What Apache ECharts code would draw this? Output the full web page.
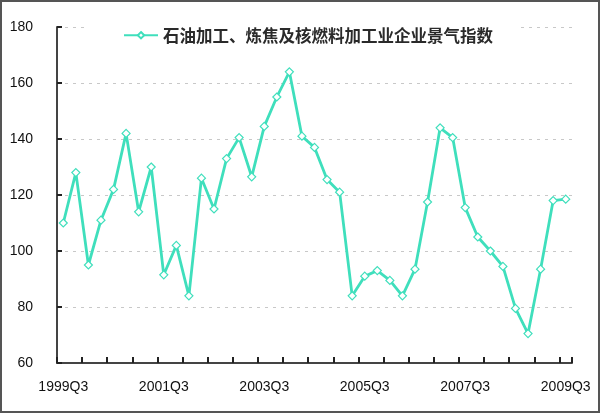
<!DOCTYPE html>
<html>
<head>
<meta charset="utf-8">
<script src="https://cdn.jsdelivr.net/npm/echarts@6/dist/echarts.min.js"></script>
<style>
html,body{margin:0;padding:0;background:#fff;}
#chart{position:absolute;left:0;top:0;width:600px;height:413px;}
#frame{position:absolute;left:0;top:0;width:600px;height:413px;box-sizing:border-box;border:2px solid #555;pointer-events:none;}
</style>
</head>
<body>
<div id="chart"></div>
<div id="frame"></div>
<script>
const seriesName = '石油加工、炼焦及核燃料加工业企业景气指数';
const categories = [
  '1999Q3','1999Q4','2000Q1','2000Q2','2000Q3','2000Q4','2001Q1','2001Q2',
  '2001Q3','2001Q4','2002Q1','2002Q2','2002Q3','2002Q4','2003Q1','2003Q2',
  '2003Q3','2003Q4','2004Q1','2004Q2','2004Q3','2004Q4','2005Q1','2005Q2',
  '2005Q3','2005Q4','2006Q1','2006Q2','2006Q3','2006Q4','2007Q1','2007Q2',
  '2007Q3','2007Q4','2008Q1','2008Q2','2008Q3','2008Q4','2009Q1','2009Q2',
  '2009Q3'
];
const values = [
  110,128,95,111,122,142,114,130,91.5,102,84,126,115,133,140.5,126.5,
  144.5,155,164,141,137,125.5,121,84,91,93,89.5,84,93.5,117.5,144,140.5,
  115.5,105,100,94.5,79.5,70.5,93.5,118,118.5
];
const yTicks = {min: 60, max: 180, step: 20};

const lineColor = '#3fdfbc';
const chart = echarts.init(document.getElementById('chart'), null, {renderer: 'canvas'});
chart.setOption({
  animation: false,
  backgroundColor: '#fff',
  grid: {left: 57, right: 28, top: 27, bottom: 50, containLabel: false},
  legend: {
    left: 88, top: 17,
    padding: [10, 25, 6, 35],
    backgroundColor: '#fff',
    itemWidth: 34, itemHeight: 8,
    itemGap: 10,
    textStyle: {fontSize: 16.5, fontWeight: 'bold', color: '#2a2a2a', fontFamily: '"Noto Sans CJK SC", sans-serif'},
    data: [seriesName]
  },
  xAxis: {
    type: 'category',
    data: categories,
    boundaryGap: true,
    axisLine: {lineStyle: {color: '#444', width: 2}},
    axisTick: {show: true, inside: true, length: 6, interval: 1, lineStyle: {color: '#222', width: 2}},
    axisLabel: {interval: 7, margin: 17, fontSize: 14, color: '#111', fontFamily: '"Liberation Sans", Arial, sans-serif'},
    splitLine: {show: false}
  },
  yAxis: {
    type: 'value',
    min: yTicks.min, max: yTicks.max, interval: yTicks.step,
    axisLine: {show: true, lineStyle: {color: '#444', width: 2}},
    axisTick: {show: true, inside: true, length: 5, lineStyle: {color: '#222', width: 2}},
    axisLabel: {margin: 24, fontSize: 14, color: '#111', fontFamily: '"Liberation Sans", Arial, sans-serif'},
    splitLine: {show: true, lineStyle: {color: '#c8c8c8', type: [3, 5], width: 1}}
  },
  series: [{
    name: seriesName,
    type: 'line',
    data: values,
    symbol: 'diamond',
    symbolSize: 8,
    showAllSymbol: true,
    lineStyle: {color: lineColor, width: 2.8},
    itemStyle: {color: '#fff', borderColor: lineColor, borderWidth: 1.2},
    z: 3
  }]
});
</script>
</body>
</html>
